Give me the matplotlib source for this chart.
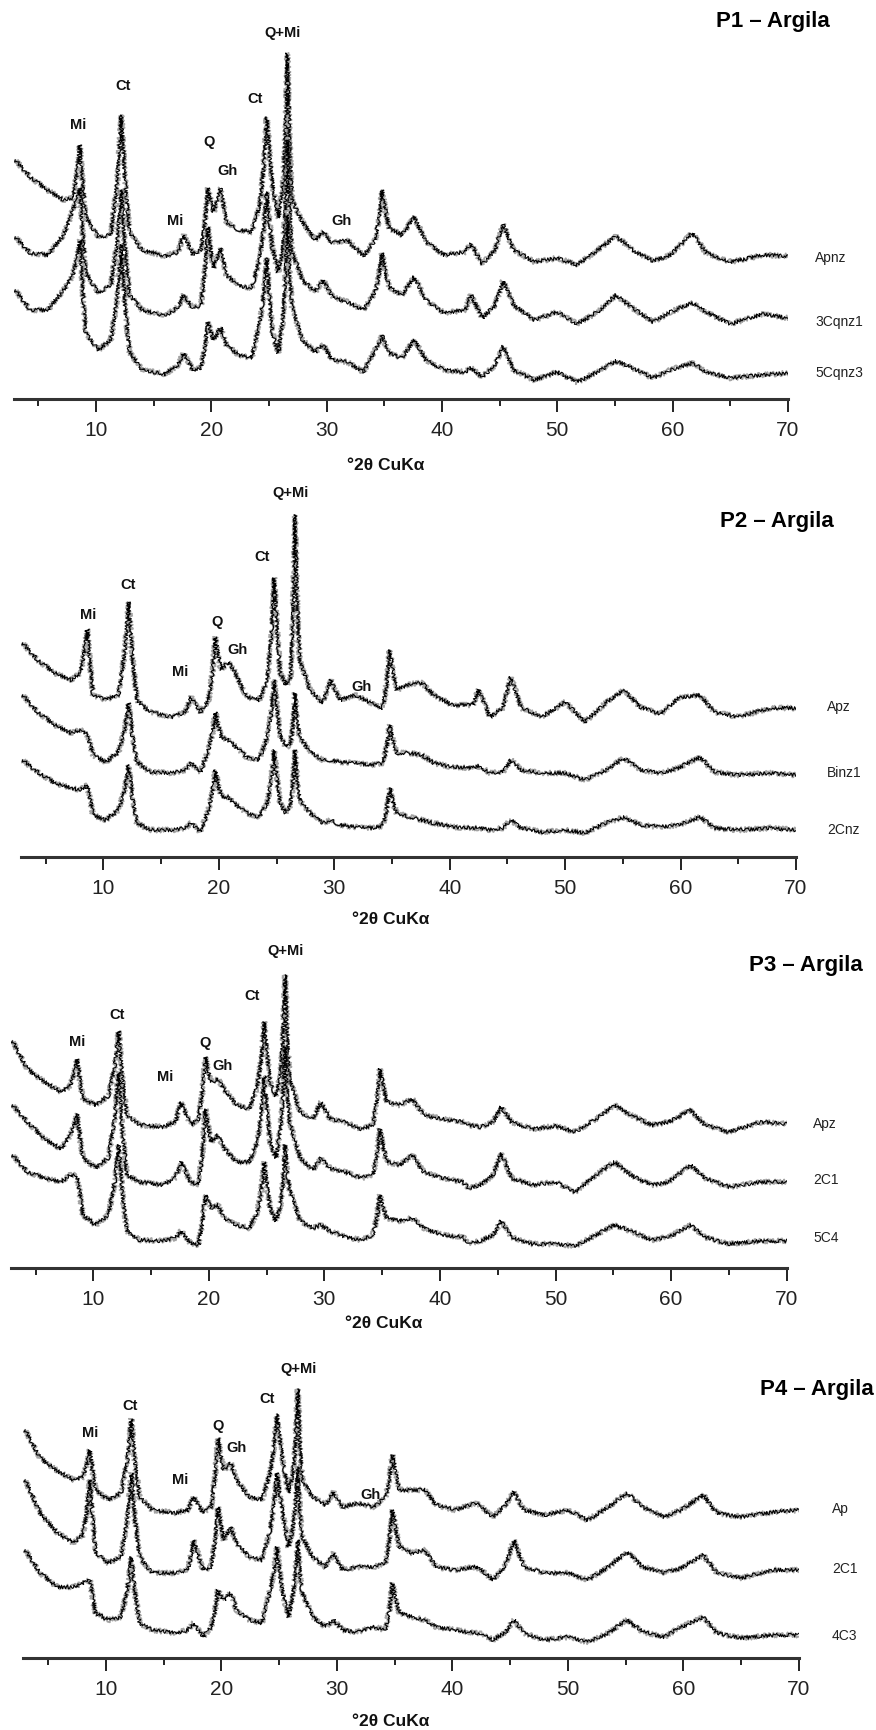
import matplotlib
matplotlib.use("Agg")
import matplotlib.pyplot as plt
from matplotlib.ticker import MultipleLocator

# ---------------- data (2θ grid shared by all diffractograms) ----------------
TWO_THETA = [3.0, 4.3, 5.8, 7.2, 8.0, 8.35, 8.6, 8.85, 9.1, 10.2,
             11.3, 11.85, 12.2, 12.5, 12.9, 14.0, 16.0, 17.1, 17.6, 18.4,
             19.1, 19.45, 19.7, 19.95, 20.2, 20.8, 21.3, 22.4, 23.5, 24.2,
             24.55, 24.8, 25.05, 25.3, 25.8, 26.2, 26.4, 26.6, 26.8, 27.0,
             27.9, 29.0, 29.7, 30.5, 31.8, 33.2, 34.2, 34.55, 34.8, 35.1,
             35.4, 36.5, 37.6, 38.6, 40.2, 42.0, 42.5, 43.5, 44.6, 45.3,
             46.2, 48.0, 50.0, 51.7, 53.5, 55.1, 56.5, 58.3, 59.8, 61.7,
             62.9, 65.0, 67.8, 70.0]

# relative intensities (a.u.)
P1_APNZ = [115, 98, 85, 75, 77, 101, 130, 90, 58, 38, 40, 94, 160, 96,
           43, 25, 19, 23, 40, 21, 25, 53, 87, 74, 63, 87, 53, 45, 43, 70,
           110, 158, 121, 90, 57, 90, 136, 222, 126, 75, 53, 35, 43, 32, 35, 19, 35,
           57, 85, 64, 47, 40, 58, 33, 20, 23, 31, 11, 25, 51, 25, 13, 17, 10,
           25, 39, 25, 14, 20, 42, 22, 13, 20, 19]
P1_3CQNZ1 = [98, 82, 80, 100, 125, 135, 147, 100, 62, 42, 50, 93, 145, 87,
             40, 25, 19, 28, 40, 27, 30, 65, 108, 85, 67, 87, 60, 49, 47, 77,
             107, 143, 112, 87, 63, 85, 123, 195, 122, 83, 55, 43, 55, 38, 33, 25, 43,
             61, 82, 63, 48, 40, 58, 35, 22, 25, 40, 17, 30, 54, 30, 15, 23, 11,
             23, 40, 27, 13, 23, 32, 23, 11, 21, 17]
P1_5CQNZ3 = [100, 80, 80, 100, 115, 131, 150, 99, 57, 40, 50, 93, 145, 86,
             38, 20, 16, 25, 37, 20, 22, 43, 68, 58, 50, 63, 45, 35, 32, 68,
             97, 132, 91, 57, 37, 70, 107, 175, 115, 83, 50, 38, 45, 30, 28, 18, 40,
             47, 55, 45, 37, 32, 50, 30, 20, 18, 22, 13, 25, 44, 20, 10, 18, 8,
             18, 29, 22, 12, 20, 27, 18, 12, 15, 17]

P2_APZ = [87, 70, 57, 50, 57, 77, 101, 65, 35, 30, 35, 77, 128, 74,
          30, 18, 13, 18, 33, 18, 30, 58, 93, 75, 60, 68, 60, 33, 30, 50,
          96, 152, 100, 58, 45, 50, 108, 215, 121, 70, 40, 27, 50, 30, 35, 27, 22,
          48, 80, 58, 40, 46, 47, 35, 25, 25, 40, 13, 22, 53, 22, 13, 28, 8,
          27, 40, 23, 16, 32, 35, 18, 13, 22, 22]
P2_BINZ1 = [95, 78, 65, 57, 60, 58, 55, 45, 35, 28, 38, 60, 87, 55,
            28, 18, 17, 20, 27, 18, 40, 57, 78, 64, 53, 50, 45, 33, 30, 53,
            79, 110, 80, 55, 43, 45, 63, 97, 68, 53, 38, 30, 30, 28, 27, 25, 27,
            44, 65, 49, 37, 37, 35, 27, 23, 22, 24, 17, 18, 30, 20, 17, 17, 10,
            20, 32, 20, 17, 22, 33, 18, 15, 17, 15]
P2_2CNZ = [85, 73, 62, 57, 55, 58, 60, 45, 30, 25, 35, 55, 80, 48,
           22, 15, 15, 17, 22, 13, 35, 53, 75, 60, 48, 48, 42, 32, 28, 42,
           66, 95, 66, 42, 32, 40, 59, 95, 63, 45, 32, 22, 25, 20, 18, 17, 19,
           36, 57, 43, 32, 28, 25, 22, 18, 17, 17, 15, 17, 25, 17, 13, 15, 12,
           22, 28, 20, 18, 20, 28, 17, 15, 17, 15]

P3_APZ = [99, 71, 58, 48, 54, 66, 81, 59, 41, 35, 44, 73, 109, 63,
          25, 15, 13, 18, 38, 15, 21, 49, 83, 69, 58, 61, 51, 35, 31, 54,
          83, 118, 85, 58, 44, 65, 100, 165, 97, 61, 28, 21, 38, 21, 18, 11, 15,
          40, 71, 53, 38, 35, 41, 25, 21, 18, 15, 13, 18, 33, 18, 11, 14, 8,
          21, 35, 25, 15, 18, 30, 15, 8, 18, 16]
P3_2C1 = [95, 78, 61, 51, 65, 74, 86, 62, 42, 32, 42, 81, 128, 71,
          25, 18, 15, 22, 38, 18, 15, 49, 91, 73, 58, 65, 52, 38, 38, 58,
          88, 124, 88, 58, 42, 72, 101, 154, 105, 78, 42, 30, 42, 32, 28, 22, 25,
          46, 71, 53, 38, 35, 45, 28, 22, 18, 12, 15, 25, 47, 22, 15, 18, 8,
          25, 38, 25, 15, 18, 35, 22, 13, 18, 18]
P3_5C4 = [100, 83, 77, 73, 80, 80, 77, 60, 40, 30, 40, 72, 110, 63,
          24, 15, 14, 17, 24, 12, 10, 33, 60, 53, 47, 50, 37, 30, 27, 43,
          66, 93, 68, 47, 34, 50, 71, 110, 81, 65, 34, 27, 30, 24, 18, 15, 20,
          38, 60, 47, 37, 34, 37, 27, 20, 18, 12, 14, 20, 34, 18, 11, 11, 9,
          20, 30, 24, 15, 18, 30, 18, 11, 14, 14]

P4_AP = [100, 72, 59, 50, 53, 65, 80, 58, 40, 30, 37, 70, 111, 68,
         33, 20, 17, 20, 33, 17, 23, 54, 92, 74, 60, 67, 50, 33, 30, 57,
         84, 116, 91, 70, 37, 57, 86, 141, 82, 50, 33, 25, 38, 23, 27, 23, 33,
         52, 75, 56, 40, 40, 40, 25, 20, 27, 23, 13, 25, 38, 20, 15, 20, 10,
         23, 37, 23, 13, 20, 35, 17, 13, 18, 20]
P4_2C1 = [110, 77, 57, 47, 55, 80, 110, 70, 37, 27, 33, 71, 117, 71,
          33, 17, 17, 20, 50, 20, 23, 50, 83, 65, 50, 63, 47, 33, 30, 60,
          86, 117, 95, 77, 43, 63, 84, 123, 78, 53, 33, 23, 37, 20, 23, 23, 27,
          51, 80, 60, 43, 37, 40, 23, 20, 23, 20, 10, 25, 50, 23, 17, 17, 10,
          23, 38, 23, 17, 22, 35, 17, 12, 20, 20]
P4_4C3 = [100, 77, 63, 63, 67, 69, 70, 52, 37, 30, 33, 60, 93, 57,
          27, 20, 17, 20, 27, 13, 23, 40, 60, 54, 50, 57, 40, 30, 27, 60,
          79, 103, 78, 57, 33, 57, 76, 110, 76, 57, 33, 23, 30, 20, 18, 23, 20,
          41, 67, 50, 37, 33, 30, 23, 20, 17, 17, 10, 18, 30, 17, 10, 13, 8,
          17, 30, 18, 13, 23, 33, 17, 12, 15, 15]

TITLES = ["P1 – Argila", "P2 – Argila", "P3 – Argila", "P4 – Argila"]
SAMPLES = [["Apnz", "3Cqnz1", "5Cqnz3"], ["Apz", "Binz1", "2Cnz"],
           ["Apz", "2C1", "5C4"], ["Ap", "2C1", "4C3"]]
SERIES = [[P1_APNZ, P1_3CQNZ1, P1_5CQNZ3], [P2_APZ, P2_BINZ1, P2_2CNZ],
          [P3_APZ, P3_2C1, P3_5C4], [P4_AP, P4_2C1, P4_4C3]]

PEAK_NAMES = [["Mi", "Ct", "Mi", "Q", "Gh", "Ct", "Q+Mi", "Gh"],
              ["Mi", "Ct", "Mi", "Q", "Gh", "Ct", "Q+Mi", "Gh"],
              ["Mi", "Ct", "Mi", "Q", "Gh", "Ct", "Q+Mi"],
              ["Mi", "Ct", "Mi", "Q", "Gh", "Ct", "Q+Mi", "Gh"]]
PEAK_POS = [[8.44, 12.34, 16.85, 19.8, 21.36, 23.8, 26.13, 31.3],
            [8.67, 12.13, 16.64, 19.84, 21.58, 23.74, 26.17, 32.4],
            [8.59, 12.05, 16.2, 19.67, 21.14, 23.74, 26.6],
            [8.6, 12.08, 16.4, 19.7, 21.26, 23.94, 26.7, 32.86]]
XLABEL = "°2θ CuKα"

# ---------------- layout (pixels of the 876 x 1730 figure) ----------------
W, H = 876, 1730
AXIS_Y = [399, 857, 1268, 1658]
PX10 = [96, 103.4, 93.3, 106]
PX70 = [788, 796, 786.6, 799]
OFFSETS = [[124, 64, 9], [127, 67, 12], [128, 68, 13], [128, 68, 8]]
PEAK_H = [[274, 313, 178, 257, 228, 300, 366, 178],
          [242, 272, 185, 235, 207, 300, 364, 170],
          [226, 253, 191, 225, 202, 272, 317],
          [225, 252, 178, 232, 210, 259, 289, 163]]
SAMPLE_X = [815, 827, 813, 832]
SAMPLE_Y = [[258, 322, 373], [707, 773, 830], [1124, 1180, 1238], [1509, 1569, 1636]]
TITLE_XY = [(716, 22), (720, 522), (749, 966), (760, 1390)]
XLABEL_XY = [(386, 465), (391, 920), (384, 1324), (391, 1722)]
XMIN = 2.85
YSPAN = 380

plt.rcParams['font.family'] = ['Liberation Sans', 'DejaVu Sans']
fig = plt.figure(figsize=(W / 100, H / 100), dpi=100)


def fxy(x, y):
    return x / W, 1 - y / H


for i in range(4):
    ppd = (PX70[i] - PX10[i]) / 60.0
    left = PX10[i] - (10 - XMIN) * ppd
    ax = fig.add_axes([left / W, 1 - AXIS_Y[i] / H, (PX70[i] - left) / W, YSPAN / H])
    ax.set_xlim(XMIN, 70)
    ax.set_ylim(0, YSPAN)
    ax.patch.set_visible(False)
    for s in ("left", "right", "top"):
        ax.spines[s].set_visible(False)
    ax.spines["bottom"].set_linewidth(2.2)
    ax.spines["bottom"].set_color("#333333")
    ax.set_yticks([])
    ax.xaxis.set_major_locator(MultipleLocator(10))
    ax.xaxis.set_minor_locator(MultipleLocator(5))
    ax.tick_params(axis="x", which="major", length=9, width=1.4, pad=7,
                   labelsize=15, colors="#222222", direction="out")
    ax.tick_params(axis="x", which="minor", length=5, width=1.4, direction="out",
                   colors="#222222")
    ax.set_xticks([10, 20, 30, 40, 50, 60, 70])

    for vals, off in zip(SERIES[i], OFFSETS[i]):
        ys = [off + v for v in vals]
        band, = ax.plot(TWO_THETA, ys, color="#666666", lw=1.3, alpha=0.6)
        band.set_sketch_params(2.6, 0.9, 4)
        core, = ax.plot(TWO_THETA, ys, color="black", lw=0.8)
        core.set_sketch_params(1.8, 1.2, 4)

    for name, pos, h in zip(PEAK_NAMES[i], PEAK_POS[i], PEAK_H[i]):
        ax.text(pos, h, name, ha="center", va="center", fontsize=10.5,
                fontweight="bold", color="#111111")

    for name, y in zip(SAMPLES[i], SAMPLE_Y[i]):
        fig.text(*fxy(SAMPLE_X[i], y), name, ha="left", va="center",
                 fontsize=10, color="#222222")

    fig.text(*fxy(*TITLE_XY[i]), TITLES[i], ha="left", va="center",
             fontsize=16, fontweight="bold", color="black")
    fig.text(*fxy(*XLABEL_XY[i]), XLABEL, ha="center", va="center",
             fontsize=12.5, fontweight="bold", color="#111111")

fig.savefig("out.png", dpi=100)
